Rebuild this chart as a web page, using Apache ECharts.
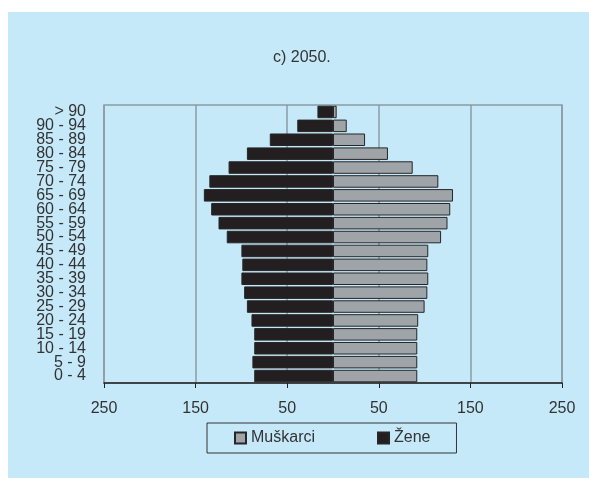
<!DOCTYPE html>
<html>
<head>
<meta charset="utf-8">
<script src="https://cdn.jsdelivr.net/npm/echarts@6/dist/echarts.min.js"></script>
<style>
  html, body { margin: 0; padding: 0; background: #ffffff; }
  #chart { position: absolute; left: 8px; top: 12px; width: 581px; height: 466px; background: #c6e9f9; }
</style>
</head>
<body>
<div id="chart"></div>
<script>
// Age groups, bottom to top
var ageGroups = ['0 - 4', '5 - 9', '10 - 14', '15 - 19', '20 - 24', '25 - 29', '30 - 34',
  '35 - 39', '40 - 44', '45 - 49', '50 - 54', '55 - 59', '60 - 64', '65 - 69', '70 - 74',
  '75 - 79', '80 - 84', '85 - 89', '90 - 94', '> 90'];

// Population by age group (thousands)
var muskarci = [92, 92, 92, 92, 93, 100, 103, 104, 103, 104, 118, 125, 128, 131, 115, 87, 60, 35, 15, 4];
var zene = [86, 88, 86, 86, 89, 94, 97, 100, 99, 100, 116, 125, 133, 141, 135, 114, 94, 69, 39, 17];

// Tick positions on the value axis (both sides of zero)
var tickValues = [-250, -150, -50, 50, 150, 250];

var font = '"Liberation Sans", Arial, sans-serif';
var textColor = '#333333';

var chart = echarts.init(document.getElementById('chart'));
chart.setOption({
  animation: false,
  title: {
    text: 'c) 2050.',
    left: 265,
    top: 38,
    padding: 0,
    textStyle: { fontFamily: font, fontSize: 16, fontWeight: 'normal', color: textColor }
  },
  legend: {
    data: ['Muškarci', 'Žene'],
    left: 199,
    top: 411,
    orient: 'horizontal',
    padding: [7, 26, 7, 27],
    itemGap: 62,
    itemWidth: 11,
    itemHeight: 11,
    icon: 'rect',
    borderColor: '#333333',
    borderWidth: 1,
    textStyle: { fontFamily: font, fontSize: 16, color: textColor }
  },
  grid: {
    left: 96,
    right: 27,
    top: 93,
    bottom: 95,
    show: true,
    borderColor: '#8c9aa4',
    borderWidth: 1.5,
    backgroundColor: 'transparent'
  },
  xAxis: {
    type: 'value',
    min: -250,
    max: 250,
    axisLine: { show: true, onZero: false, lineStyle: { color: '#222222', width: 1.5 } },
    axisTick: { show: true, customValues: tickValues, length: 5, lineStyle: { color: '#222222', width: 1 } },
    axisLabel: {
      customValues: tickValues,
      margin: 18,
      fontFamily: font,
      fontSize: 16,
      color: textColor,
      formatter: function (v) { return String(Math.abs(v)); }
    },
    splitLine: { show: true, lineStyle: { color: '#8c9aa4', width: 1.5 } }
  },
  yAxis: {
    type: 'category',
    data: ageGroups,
    axisLine: { show: false, onZero: false },
    axisTick: { show: false },
    axisLabel: { interval: 0, margin: 18, fontFamily: font, fontSize: 16, color: textColor },
    splitLine: { show: false }
  },
  series: [
    {
      name: 'Muškarci',
      type: 'bar',
      stack: 'pop',
      barCategoryGap: '10%',
      data: muskarci,
      itemStyle: { color: '#9fa4a9', borderColor: '#262626', borderWidth: 1 }
    },
    {
      name: 'Žene',
      type: 'bar',
      stack: 'pop',
      barCategoryGap: '10%',
      data: zene.map(function (v) { return -v; }),
      itemStyle: { color: '#231f20', borderColor: '#262626', borderWidth: 1 }
    }
  ]
});
</script>
</body>
</html>
